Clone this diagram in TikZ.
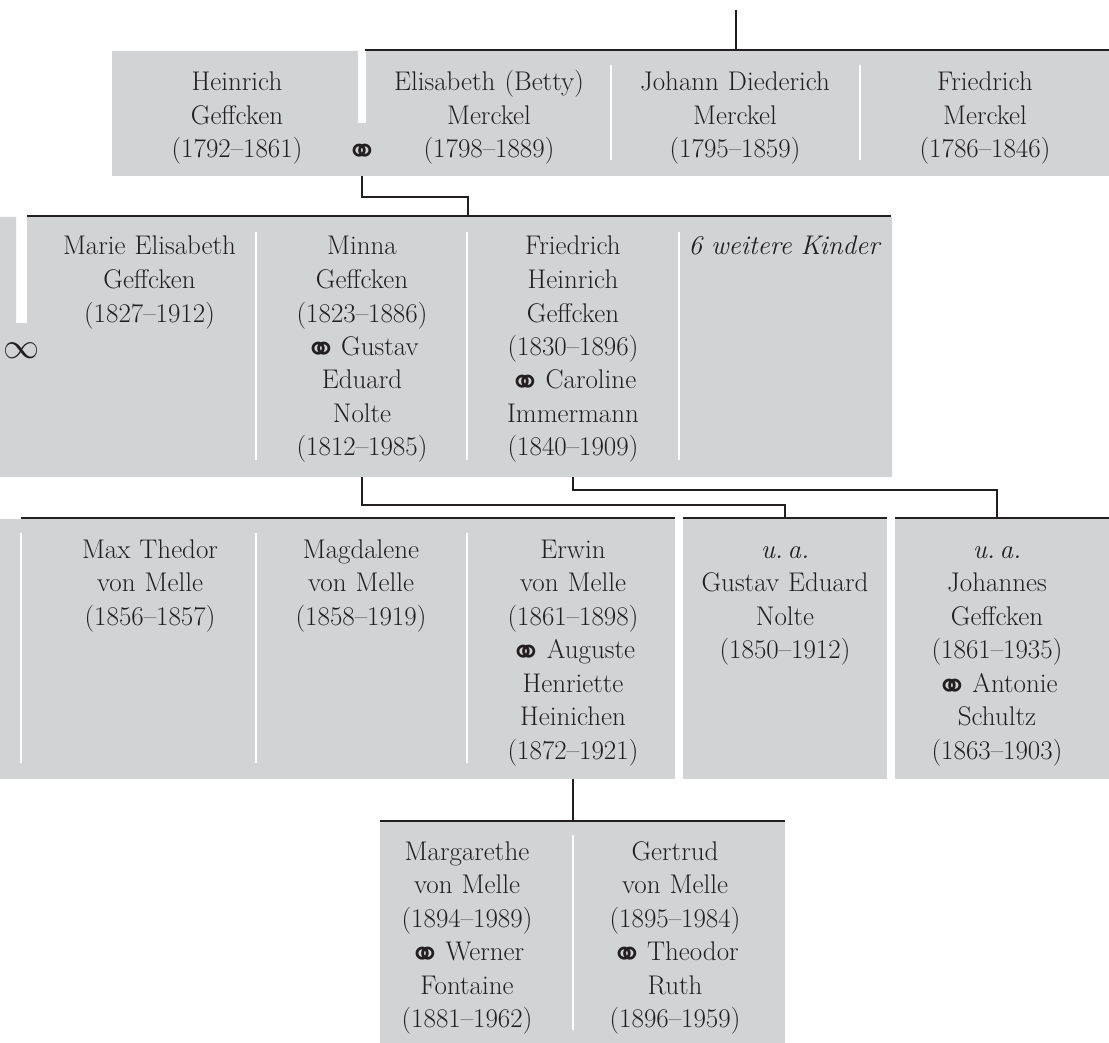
\documentclass[tikz,border=0pt]{standalone}
\usepackage{fontspec}
\usepackage{graphicx}
\newfontfamily\symfont{DejaVu Sans}
\definecolor{ink}{RGB}{35,31,32}
\definecolor{boxgrey}{RGB}{209,211,212}
\newcommand\marr{\raisebox{-7pt}[0pt][0pt]{\symfont\fontsize{38}{38}\selectfont ⚭}}
\newcommand\infsym{\raisebox{0pt}[0pt][0pt]{\scalebox{1.45}{$\infty$}}}
\tikzset{
  topline/.style={draw=ink, line width=2.6pt},
  conn/.style={draw=ink, line width=2.1pt},
  divider/.style={draw=white, line width=2pt},
  person/.style={text=ink, font=\fontsize{27}{33.5}\selectfont, align=center,
                 anchor=base, inner sep=0pt, text width=230pt},
  sym/.style={text=ink, font=\fontsize{27}{33.5}\selectfont, anchor=base, inner sep=0pt},
}
\begin{document}
\begin{tikzpicture}[x=1pt,y=-1pt]
\useasboundingbox (0,0) rectangle (1109,1043);

% grey panels
\fill[boxgrey] (112,51) -- (358,51) -- (358,123) -- (366,123) -- (366,51) -- (1109,51) -- (1109,176) -- (112,176) -- cycle;
\fill[boxgrey] (0,217) -- (16,217) -- (16,323) -- (27,323) -- (27,217) -- (892,217) -- (892,477) -- (0,477) -- cycle;
\fill[boxgrey] (0,519) rectangle (675,779);
\fill[boxgrey] (683,519) rectangle (887,779);
\fill[boxgrey] (895,519) rectangle (1109,779);
\fill[boxgrey] (380,822) rectangle (785,1043);

% white dividers
\foreach \x in {611,860} \draw[divider] (\x,65) -- (\x,160);
\foreach \x in {256,467,679} \draw[divider] (\x,232) -- (\x,460);
\foreach \x in {21,256,467} \draw[divider] (\x,533) -- (\x,763);
\draw[divider] (573,835) -- (573,1030);

% top lines
\draw[topline] (365,50) -- (1109,50);
\draw[topline] (27,216) -- (891,216);
\draw[topline] (21,518) -- (675,518);
\draw[topline] (683,518) -- (887,518);
\draw[topline] (895,518) -- (1109,518);
\draw[topline] (380,821) -- (785,821);

% row 1
\node[person] (heinrich) at (237,91) {Heinrich\\Geffcken\\(1792–1861)};
\node[person] (betty) at (489,91) {Elisabeth (Betty)\\Merckel\\(1798–1889)};
\node[person] (johann) at (735,91) {Johann Diederich\\Merckel\\(1795–1859)};
\node[person] (friedrich) at (985,91) {Friedrich\\Merckel\\(1786–1846)};
\node[sym] (m1) at (362,158) {\marr};

% row 2
\node[person] (marie) at (149.5,255) {Marie Elisabeth\\Geffcken\\(1827–1912)};
\node[person] (minna) at (362,255) {Minna\\Geffcken\\(1823–1886)\\\marr\hspace{4pt}Gustav\\Eduard\\Nolte\\(1812–1985)};
\node[person] (fh) at (573,255) {Friedrich\\Heinrich\\Geffcken\\(1830–1896)\\\marr\hspace{4pt}Caroline\\Immermann\\(1840–1909)};
\node[person] (kinder) at (784,255) {\itshape 6 weitere Kinder};
\node[sym] (m2) at (21.5,358) {\infsym};

% row 3
\node[person] (max) at (150,558) {Max Thedor\\von Melle\\(1856–1857)};
\node[person] (magda) at (361,558) {Magdalene\\von Melle\\(1858–1919)};
\node[person] (erwin) at (573,558) {Erwin\\von Melle\\(1861–1898)\\\marr\hspace{4pt}Auguste\\Henriette\\Heinichen\\(1872–1921)};
\node[person] (gustav) at (785,558) {\textit{u.\,a.}\\Gustav Eduard\\Nolte\\(1850–1912)};
\node[person] (johannes) at (997,558) {\textit{u.\,a.}\\Johannes\\Geffcken\\(1861–1935)\\\marr\hspace{4pt}Antonie\\Schultz\\(1863–1903)};

% row 4
\node[person] (marg) at (467,860) {Margarethe\\von Melle\\(1894–1989)\\\marr\hspace{4pt}Werner\\Fontaine\\(1881–1962)};
\node[person] (gert) at (675,860) {Gertrud\\von Melle\\(1895–1984)\\\marr\hspace{4pt}Theodor\\Ruth\\(1896–1959)};

% connector anchors
\coordinate (in1) at (736,10);
\coordinate (r1t) at (736,50);
\coordinate (r1b) at (362,176);
\coordinate (r2t) at (468,216);
\coordinate (minnab) at (362,477);
\coordinate (r3bt) at (785,518);
\coordinate (fhb) at (573,477);
\coordinate (r3ct) at (997,518);
\coordinate (erwinb) at (573,779);
\coordinate (r4t) at (573,821);

\draw[conn] (in1) -- (r1t);
\draw[conn] (r1b) -- ++(0,21) -| (r2t);
\draw[conn] (minnab) -- ++(0,28) -| (r3bt);
\draw[conn] (fhb) -- ++(0,13) -| (r3ct);
\draw[conn] (erwinb) -- (r4t);
\end{tikzpicture}
\end{document}
